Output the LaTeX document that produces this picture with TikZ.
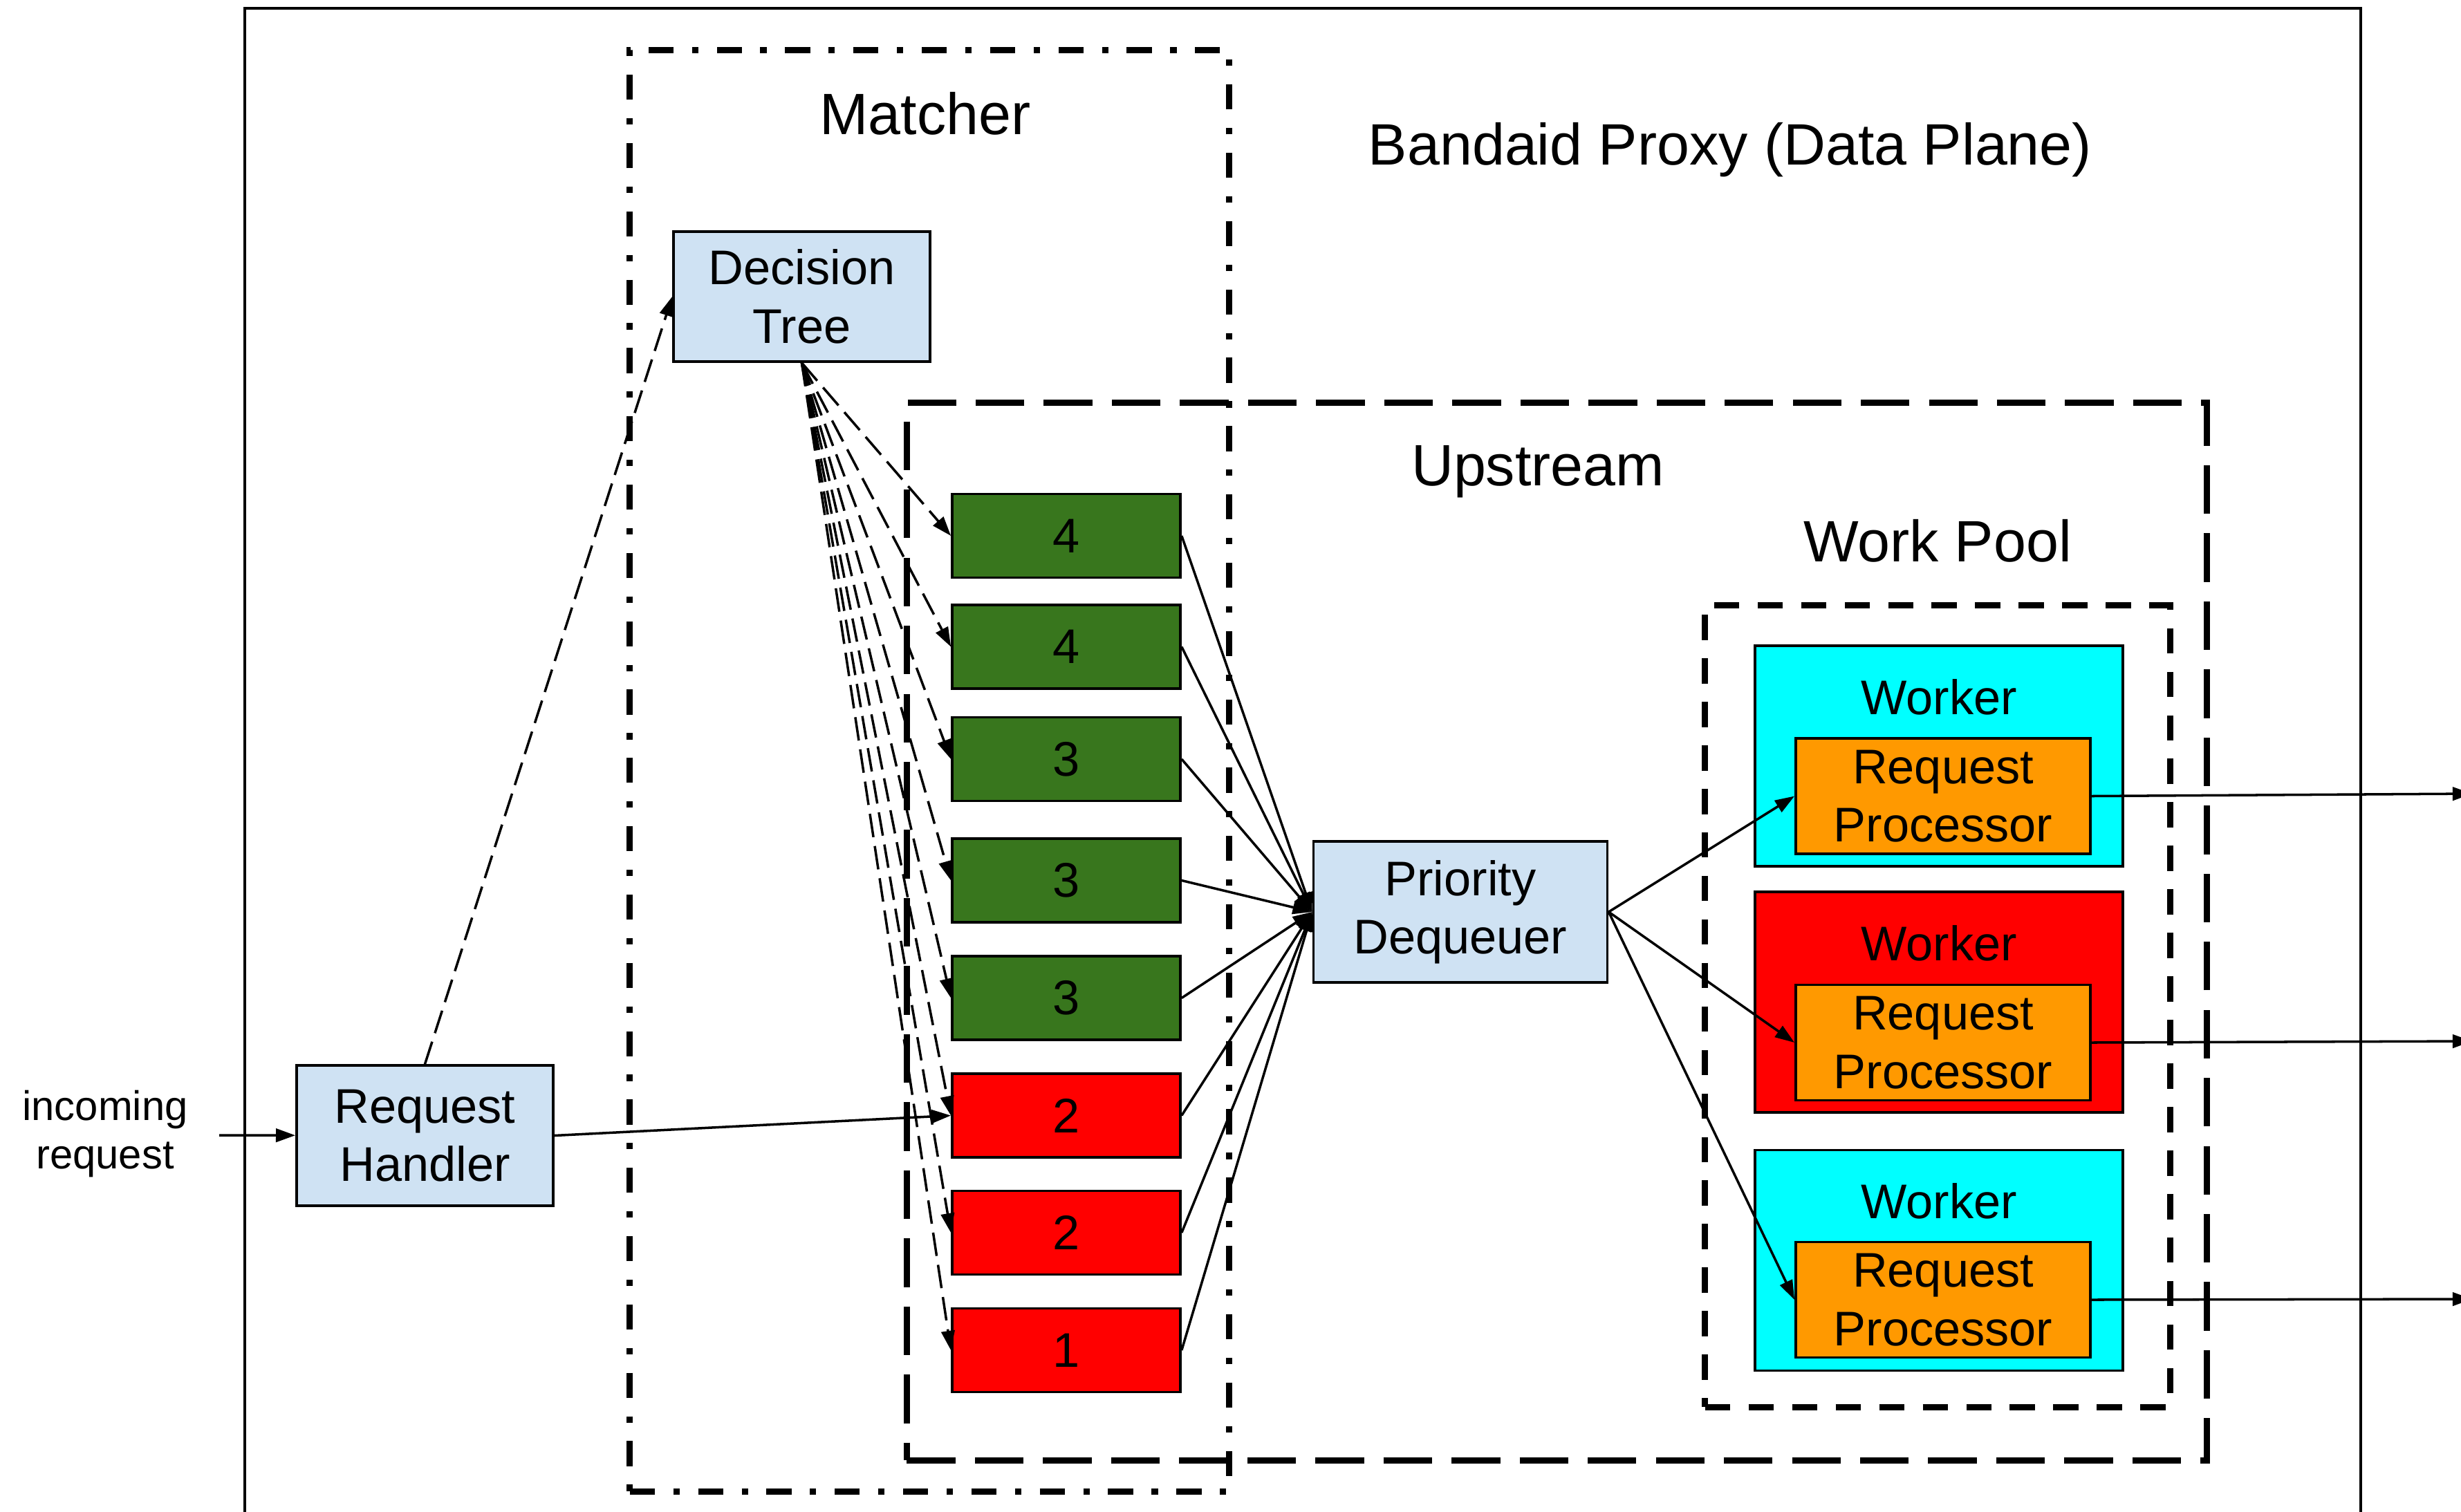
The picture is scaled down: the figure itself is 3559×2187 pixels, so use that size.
\documentclass[tikz,border=0pt]{standalone}
\usepackage{fontspec}
\setmainfont{Liberation Sans}
\definecolor{BPBlue}{RGB}{207,226,243}
\definecolor{BPGreen}{RGB}{56,118,29}
\definecolor{BPRed}{RGB}{255,0,0}
\definecolor{BPCyan}{RGB}{0,255,255}
\definecolor{BPOrange}{RGB}{255,153,0}
\usetikzlibrary{arrows.meta, positioning}
\tikzset{
  ctrl/.style={rectangle, draw=black, fill=BPBlue, line width=1pt, inner sep=0pt,
    align=center, font={\fontsize{20}{24}\selectfont},
    execute at begin node={\rule{0pt}{18.6pt}}},
  queue/.style={rectangle, draw=black, line width=1pt, inner sep=0pt,
    minimum width=3.3cm, minimum height=1.21cm, font={\fontsize{20}{24}\selectfont}},
  worker/.style={rectangle, draw=black, line width=1pt, inner sep=0pt,
    minimum width=5.32cm, minimum height=3.19cm},
  proc/.style={rectangle, draw=black, fill=BPOrange, line width=1pt, inner sep=0pt,
    minimum width=4.26cm, minimum height=1.67cm, align=center,
    font={\fontsize{20}{24}\selectfont},
    execute at begin node={\rule{0pt}{18.6pt}}},
  wlabel/.style={anchor=base, inner sep=0pt, font={\fontsize{20}{24}\selectfont}},
  title/.style={anchor=base, inner sep=0pt, font={\fontsize{24}{29}\selectfont}},
  note/.style={inner sep=0pt, align=center, font={\fontsize{17}{20}\selectfont}},
  matchbox/.style={rectangle, draw=black, line width=2.6pt, inner sep=0pt,
    dash pattern=on 10.3pt off 7.6pt on 2.6pt off 7.6pt},
  upbox/.style={rectangle, draw=black, line width=2.7pt, inner sep=0pt,
    dash pattern=on 20pt off 8pt},
  poolbox/.style={rectangle, draw=black, line width=2.6pt, inner sep=0pt,
    dash pattern=on 10.4pt off 7.5pt},
  arrow/.style={-{Triangle[length=8pt, width=5.5pt]}, line width=1pt, draw=black},
  dasharrow/.style={arrow, dash pattern=on 9.7pt off 3.7pt}
}
\begin{document}
\begin{tikzpicture}[x=0.01cm, y=-0.01cm]
  \useasboundingbox (0,0) rectangle (3559,2187);

  \draw[line width=1pt] (354,2200) -- (354,12) -- (3414,12) -- (3414,2200);
  \node[matchbox, minimum width=8.66cm, minimum height=20.84cm] (matcher) at (1344,1115) {};
  \node[upbox, minimum width=18.79cm, minimum height=15.29cm] (upstream) at (2251.5,1347.5) {};
  \node[poolbox, minimum width=6.72cm, minimum height=11.59cm] (pool) at (2802,1455.5) {};

  \node[title] (proxyt) at (2502,238) {Bandaid Proxy (Data Plane)};
  \node[title] (matchert) at (1338,194) {Matcher};
  \node[title] (upt) at (2224,702) {Upstream};
  \node[title] (poolt) at (2802,812) {Work Pool};

  \node[ctrl, minimum width=3.71cm, minimum height=1.88cm] (tree) at (1159.5,429) {Decision\\Tree};
  \node[ctrl, minimum width=3.71cm, minimum height=2.03cm] (handler) at (614.5,1642.5) {Request\\Handler};
  \node[ctrl, minimum width=4.25cm, minimum height=2.04cm] (deq) at (2112,1319) {Priority\\Dequeuer};
  \node[note] (inc) at (152,1640) {incoming\\request};
  \coordinate (src) at (317,1642);

  \node[queue, fill=BPGreen] (q1) at (1542,775) {4};
  \node[queue, fill=BPGreen] (q2) at (1542,935.5) {4};
  \node[queue, fill=BPGreen] (q3) at (1542,1098) {3};
  \node[queue, fill=BPGreen] (q4) at (1542,1273.5) {3};
  \node[queue, fill=BPGreen] (q5) at (1542,1443.5) {3};
  \node[queue, fill=BPRed] (q6) at (1542,1613.5) {2};
  \node[queue, fill=BPRed] (q7) at (1542,1783) {2};
  \node[queue, fill=BPRed] (q8) at (1542,1953) {1};

  \node[worker, fill=BPCyan] (w1) at (2804,1093.5) {};
  \node[worker, fill=BPRed]  (w2) at (2804,1449.5) {};
  \node[worker, fill=BPCyan] (w3) at (2804,1823) {};
  \node[wlabel] (wl1) at (2804,1033) {Worker};
  \node[wlabel] (wl2) at (2804,1389) {Worker};
  \node[wlabel] (wl3) at (2804,1762) {Worker};
  \node[proc] (p1) at (2810,1151.5) {Request\\Processor};
  \node[proc] (p2) at (2810,1508) {Request\\Processor};
  \node[proc] (p3) at (2810,1880) {Request\\Processor};
  \coordinate (out1) at (3575,1148);
  \coordinate (out2) at (3575,1506);
  \coordinate (out3) at (3575,1879);

  \draw[arrow] (src) -- (handler);
  \draw[dasharrow] (handler.north) -- (tree.west);
  \draw[arrow] (handler.east) -- (q6.west);

  \draw[dasharrow] (tree.south) -- (q1.west);
  \draw[dasharrow] (tree.south) -- (q2.west);
  \draw[dasharrow] (tree.south) -- (q3.west);
  \draw[dasharrow] (tree.south) -- (q4.west);
  \draw[dasharrow] (tree.south) -- (q5.west);
  \draw[dasharrow] (tree.south) -- (q6.west);
  \draw[dasharrow] (tree.south) -- (q7.west);
  \draw[dasharrow] (tree.south) -- (q8.west);

  \draw[arrow] (q1.east) -- (deq.west);
  \draw[arrow] (q2.east) -- (deq.west);
  \draw[arrow] (q3.east) -- (deq.west);
  \draw[arrow] (q4.east) -- (deq.west);
  \draw[arrow] (q5.east) -- (deq.west);
  \draw[arrow] (q6.east) -- (deq.west);
  \draw[arrow] (q7.east) -- (deq.west);
  \draw[arrow] (q8.east) -- (deq.west);

  \draw[arrow] (deq.east) -- (p1.west);
  \draw[arrow] (deq.east) -- (p2.west);
  \draw[arrow] (deq.east) -- (p3.west);

  \draw[arrow] (p1.east) -- (out1);
  \draw[arrow] (p2.east) -- (out2);
  \draw[arrow] (p3.east) -- (out3);
\end{tikzpicture}
\end{document}
